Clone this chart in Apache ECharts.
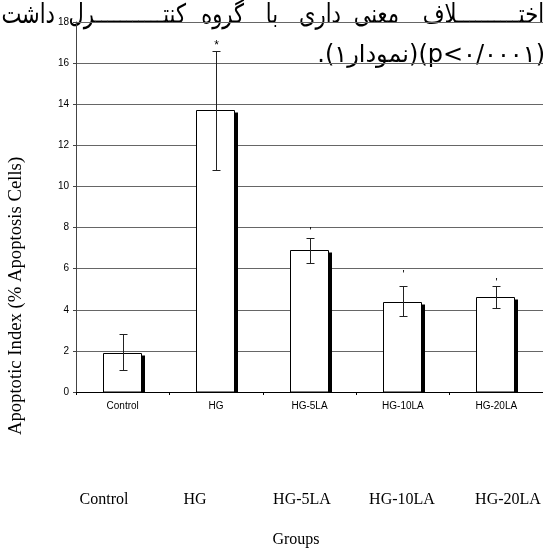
<!DOCTYPE html>
<html>
<head>
<meta charset="utf-8">
<script src="https://cdn.jsdelivr.net/npm/echarts@6/dist/echarts.min.js"></script>
<style>
html,body{margin:0;padding:0;background:#fff;}
#chart{width:543px;height:548px;}
</style>
</head>
<body>
<div id="chart"></div>
<script>
// ---- data ----
const categories = ['Control', 'HG', 'HG-5LA', 'HG-10LA', 'HG-20LA'];
const meanValues = [1.9, 13.7, 6.9, 4.4, 4.6];
const errorHigh = [2.8, 16.6, 7.5, 5.15, 5.15];
const errorLow = [1.05, 10.8, 6.3, 3.7, 4.1];
const sigMarks = ['', '*', '\'', '\'', '\''];
const sigMarkValues = [0, 16.85, 7.8, 5.7, 5.3];
const yTickMin = 0, yTickMax = 18, yTickStep = 2;
const yAxisTitle = 'Apoptotic Index (% Apoptosis Cells)';
const xAxisTitle = 'Groups';
const persianLine1Words = ['اختــــــــــلاف', 'معنی', 'داری', 'با', 'گروه', 'کنتـــــــــــرل', 'داشت'];
const persianLine2 = '.(نمودار۱)(p<۰/۰۰۰۱)';

// ---- layout / style ----
const persianWordRight = [544, 399, 341, 278, 244, 186, 55];
const bottomLabelCenters = [104, 195, 302, 402, 508];

const barData = categories.map((c, i) => [i, meanValues[i]]);
const errData = categories.map((c, i) => [i, errorLow[i], errorHigh[i], sigMarkValues[i]]);

function renderBar(params, api) {
  const i = api.value(0);
  const top = api.coord([i, api.value(1)]);
  const base = api.coord([i, 0]);
  const cx = Math.round(top[0]);
  const ty = Math.round(top[1]) + 0.5;
  return {
    type: 'group',
    children: [
      { type: 'rect', shape: { x: cx + 18.5, y: ty + 2, width: 3.5, height: base[1] - ty - 2 }, style: { fill: '#000' } },
      { type: 'rect', shape: { x: cx - 19.5, y: ty, width: 38, height: base[1] - ty }, style: { fill: '#fff', stroke: '#000', lineWidth: 1 } }
    ]
  };
}

function renderErr(params, api) {
  const i = api.value(0);
  const lo = api.coord([i, api.value(1)]);
  const hi = api.coord([i, api.value(2)]);
  const cx = Math.round(lo[0]) + 0.5;
  const ylo = Math.round(lo[1]) + 0.5, yhi = Math.round(hi[1]) + 0.5;
  const children = [
    { type: 'line', shape: { x1: cx, y1: yhi, x2: cx, y2: ylo }, style: { stroke: '#222', lineWidth: 1 } },
    { type: 'line', shape: { x1: cx - 4, y1: yhi, x2: cx + 4, y2: yhi }, style: { stroke: '#222', lineWidth: 1 } },
    { type: 'line', shape: { x1: cx - 4, y1: ylo, x2: cx + 4, y2: ylo }, style: { stroke: '#222', lineWidth: 1 } }
  ];
  const mark = sigMarks[i];
  if (mark) {
    const mp = api.coord([i, api.value(3)]);
    children.push({ type: 'text', x: cx, y: mp[1], style: { text: mark, font: (mark === '*' ? '12px' : '11px') + ' "Liberation Sans", Arial', fill: '#000', align: 'center', verticalAlign: 'middle' } });
  }
  return { type: 'group', children };
}

const graphics = [];
persianLine1Words.forEach((w, i) => {
  graphics.push({ type: 'text', x: persianWordRight[i], y: 16, scaleX: 0.78, silent: true,
    style: { text: w, font: '27px "DejaVu Sans"', fill: '#000', align: 'right', verticalAlign: 'middle' } });
});
graphics.push({ type: 'text', x: 545, y: 56, silent: true,
  style: { text: persianLine2, font: '24px "DejaVu Sans"', fill: '#000', align: 'right', verticalAlign: 'middle' } });
categories.forEach((c, i) => {
  graphics.push({ type: 'text', x: bottomLabelCenters[i], y: 500, silent: true,
    style: { text: c, font: '16px "Liberation Serif"', fill: '#000', align: 'center', verticalAlign: 'middle' } });
});
graphics.push({ type: 'text', x: 296, y: 540, silent: true,
  style: { text: xAxisTitle, font: '16px "Liberation Serif"', fill: '#000', align: 'center', verticalAlign: 'middle' } });
graphics.push({ type: 'text', x: 16, y: 296, rotation: Math.PI / 2, silent: true,
  style: { text: yAxisTitle, font: '18.7px "Liberation Serif"', fill: '#000', align: 'center', verticalAlign: 'middle' } });

const chart = echarts.init(document.getElementById('chart'), null, { renderer: 'canvas' });
chart.setOption({
  animation: false,
  backgroundColor: '#fff',
  grid: { left: 76, top: 22, width: 470, height: 370, containLabel: false },
  xAxis: {
    type: 'category', data: categories, boundaryGap: true,
    axisLine: { show: true, lineStyle: { color: '#000', width: 1 } },
    axisTick: { show: true, length: 3, lineStyle: { color: '#000' } },
    axisLabel: { color: '#000', fontSize: 10, fontFamily: '"Liberation Sans", Arial', margin: 9 },
    splitLine: { show: false }
  },
  yAxis: {
    type: 'value', min: yTickMin, max: yTickMax, interval: yTickStep,
    axisLine: { show: true, lineStyle: { color: '#444', width: 1 } },
    axisTick: { show: true, length: 3, lineStyle: { color: '#444' } },
    axisLabel: { color: '#000', fontSize: 10, fontFamily: '"Liberation Sans", Arial', margin: 7 },
    splitLine: { show: true, lineStyle: { color: '#666', width: 1 } }
  },
  graphic: graphics,
  series: [
    { type: 'custom', renderItem: renderBar, data: barData, encode: { x: 0, y: 1 }, z: 2 },
    { type: 'custom', renderItem: renderErr, data: errData, encode: { x: 0, y: [1, 2] }, z: 3 }
  ]
});
</script>
</body>
</html>
